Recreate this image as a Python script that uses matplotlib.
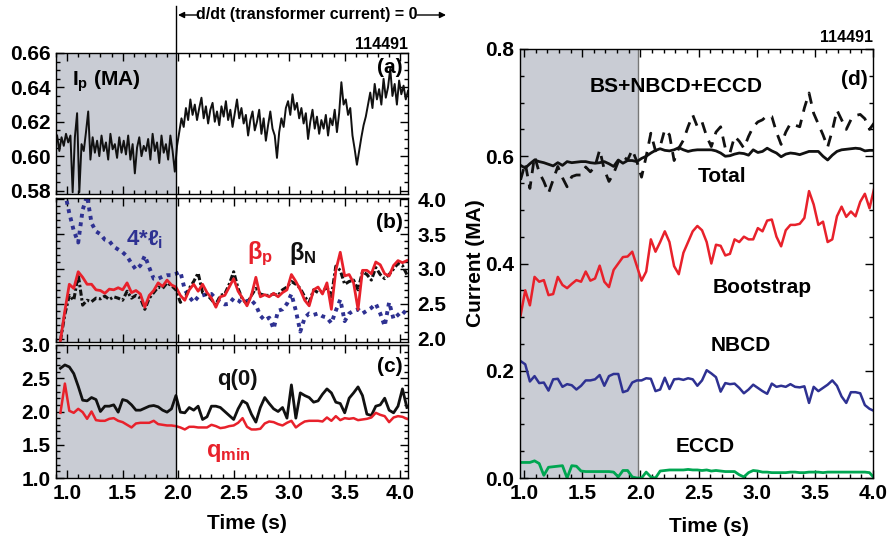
import numpy as np
import matplotlib
matplotlib.use('Agg')
import matplotlib.pyplot as plt
from matplotlib.ticker import MultipleLocator, FormatStrFormatter
from matplotlib.lines import Line2D
from matplotlib import font_manager as fm

names = {f.name for f in fm.fontManager.ttflist}
BASE = 'Liberation Sans Narrow' if 'Liberation Sans Narrow' in names else 'Liberation Sans'
plt.rcParams['font.family'] = [BASE, 'DejaVu Sans']
plt.rcParams['font.weight'] = 'bold'
plt.rcParams['mathtext.fontset'] = 'custom'
plt.rcParams['mathtext.rm'] = BASE + ':bold'
plt.rcParams['mathtext.it'] = BASE + ':bold'
plt.rcParams['mathtext.bf'] = BASE + ':bold'
plt.rcParams['mathtext.fallback'] = 'cm'

# ---------------- data ----------------
t_ip = 0.91 + 0.02 * np.arange(159)
ip = [0.612, 0.603, 0.611, 0.606, 0.613, 0.608, 0.612, 0.579, 0.611, 0.625,
      0.579, 0.607, 0.603, 0.614, 0.626, 0.598, 0.611, 0.602, 0.609, 0.600,
      0.612, 0.603, 0.608, 0.598, 0.613, 0.604, 0.607, 0.599, 0.611, 0.602,
      0.609, 0.601, 0.612, 0.598, 0.607, 0.590, 0.605, 0.611, 0.600, 0.606,
      0.603, 0.610, 0.598, 0.613, 0.603, 0.608, 0.596, 0.612, 0.602, 0.607,
      0.598, 0.612, 0.603, 0.591, 0.606, 0.614, 0.622, 0.617, 0.628, 0.621,
      0.633, 0.624, 0.630, 0.621, 0.628, 0.634, 0.622, 0.629, 0.619, 0.627,
      0.631, 0.620, 0.626, 0.618, 0.629, 0.623, 0.632, 0.621, 0.627, 0.617,
      0.625, 0.633, 0.622, 0.628, 0.619, 0.624, 0.612, 0.621, 0.626, 0.615,
      0.620, 0.627, 0.613, 0.622, 0.609, 0.618, 0.626, 0.616, 0.612, 0.599,
      0.614, 0.622, 0.617, 0.628, 0.632, 0.624, 0.636, 0.627, 0.631, 0.622,
      0.628, 0.619, 0.625, 0.610, 0.620, 0.627, 0.616, 0.623, 0.613, 0.621,
      0.616, 0.624, 0.612, 0.622, 0.618, 0.627, 0.614, 0.625, 0.643, 0.630,
      0.633, 0.624, 0.628, 0.612, 0.604, 0.595, 0.603, 0.611, 0.618, 0.623,
      0.630, 0.637, 0.628, 0.642, 0.633, 0.639, 0.630, 0.645, 0.634, 0.640,
      0.651, 0.635, 0.642, 0.630, 0.644, 0.636, 0.641, 0.633, 0.638]

tb = 0.94 + 0.04 * np.arange(79)
beta_p = [1.97, 2.40, 2.78, 2.72, 2.96, 2.88, 2.78, 2.78, 2.70, 2.69,
          2.65, 2.71, 2.70, 2.73, 2.70, 2.80, 2.66, 2.69, 2.64, 2.45,
          2.62, 2.69, 2.80, 2.75, 2.84, 2.77, 2.74, 2.62, 2.55, 2.70,
          2.78, 2.68, 2.78, 2.66, 2.58, 2.45, 2.60, 2.62, 2.74, 2.86,
          2.68, 2.58, 2.47, 2.62, 2.88, 2.60, 2.63, 2.60, 2.65, 2.60,
          2.66, 2.70, 2.92, 2.82, 2.70, 2.55, 2.47, 2.70, 2.74, 2.64,
          2.80, 2.42, 2.98, 3.24, 2.90, 2.92, 2.80, 2.42, 2.98, 2.98,
          2.93, 3.10, 3.06, 2.93, 2.90, 3.05, 3.12, 3.09, 3.12]
beta_n = [1.97, 2.35, 2.62, 2.55, 2.92, 2.48, 2.55, 2.53, 2.58, 2.57,
          2.61, 2.56, 2.60, 2.58, 2.55, 2.68, 2.58, 2.62, 2.58, 2.42,
          2.58, 2.66, 2.74, 2.72, 2.80, 2.76, 2.70, 2.52, 2.58, 2.72,
          2.82, 2.94, 2.66, 2.63, 2.56, 2.48, 2.62, 2.64, 2.78, 2.96,
          2.72, 2.56, 2.50, 2.62, 2.72, 2.64, 2.62, 2.62, 2.64, 2.62,
          2.70, 2.74, 2.82, 2.78, 2.72, 2.60, 2.52, 2.70, 2.66, 2.68,
          2.74, 2.60, 3.04, 2.98, 2.78, 2.82, 2.84, 2.70, 2.96, 2.92,
          2.84, 3.02, 2.92, 2.86, 2.92, 3.00, 3.08, 3.05, 2.92]
li4 = [np.nan, 4.10, 3.80, 3.55, 3.38, 3.85, 4.05, 3.66, 3.54, 3.50,
       3.42, 3.40, 3.32, 3.28, 3.24, 3.18, 3.08, 2.99, 3.05, 3.19,
       3.02, 2.86, 2.86, 2.89, 2.91, 2.91, 2.93, 2.96, 2.70, 2.60,
       2.52, 2.60, 2.62, 2.64, 2.64, 2.57, 2.52, 2.49, 2.50, 2.58,
       2.55, 2.50, 2.54, 2.55, 2.48, 2.33, 2.26, 2.30, 2.14, 2.40,
       2.42, 2.50, 2.64, 2.40, 2.10, 2.30, 2.36, 2.34, 2.36, 2.32,
       2.30, 2.22, 2.40, 2.56, 2.25, 2.36, 2.40, 2.42, 2.36, 2.40,
       2.44, 2.50, 2.36, 2.18, 2.52, 2.28, 2.34, 2.40, 2.34]

q0 = [2.65, 2.70, 2.67, 2.57, 2.38, 2.17, 2.16, 2.21, 2.18, 2.00,
      2.08, 2.08, 2.10, 1.99, 2.18, 2.16, 2.10, 2.02, 2.02, 2.05,
      2.08, 2.09, 2.07, 2.02, 1.99, 2.04, 2.24, 1.99, 1.98, 2.06,
      2.02, 2.08, 1.88, 1.92, 2.08, 2.08, 2.06, 2.00, 1.94, 1.88,
      2.04, 2.16, 2.12, 1.96, 1.84, 2.06, 2.21, 2.12, 2.04, 2.00,
      2.06, 1.90, 2.40, 1.90, 2.28, 2.24, 2.21, 2.14, 2.16, 2.26,
      2.34, 2.28, 2.14, 2.12, 1.98, 2.20, 2.28, 2.37, 2.24, 1.96,
      1.94, 2.08, 2.10, 2.20, 2.02, 1.98, 2.08, 2.34, 2.06]
qmin = [1.98, 2.42, 2.01, 1.98, 2.04, 1.99, 1.89, 2.00, 1.87, 1.86,
        1.86, 1.89, 1.90, 1.86, 1.84, 1.80, 1.76, 1.82, 1.83, 1.83,
        1.83, 1.86, 1.81, 1.80, 1.79, 1.79, 1.78, 1.76, 1.73, 1.77,
        1.77, 1.76, 1.76, 1.76, 1.80, 1.78, 1.75, 1.76, 1.78, 1.79,
        1.83, 1.90, 1.77, 1.73, 1.73, 1.74, 1.82, 1.85, 1.84, 1.81,
        1.79, 1.83, 1.86, 1.76, 1.81, 1.85, 1.86, 1.86, 1.86, 1.85,
        1.91, 1.86, 1.93, 1.87, 1.90, 1.89, 1.90, 1.87, 1.88, 1.89,
        1.91, 1.98, 1.95, 1.93, 1.84, 1.91, 1.93, 1.92, 1.89]

td = 0.97 + 0.04 * np.arange(77)
total = [0.583, 0.578, 0.586, 0.593, 0.590, 0.588, 0.585, 0.582, 0.588, 0.583,
         0.590, 0.588, 0.589, 0.590, 0.590, 0.588, 0.587, 0.588, 0.590, 0.586,
         0.581, 0.593, 0.587, 0.592, 0.592, 0.590, 0.596, 0.600, 0.606, 0.611,
         0.614, 0.611, 0.610, 0.612, 0.616, 0.612, 0.609, 0.611, 0.612, 0.612,
         0.612, 0.612, 0.610, 0.606, 0.600, 0.601, 0.604, 0.606, 0.605, 0.602,
         0.612, 0.607, 0.609, 0.615, 0.610, 0.606, 0.599, 0.604, 0.606, 0.605,
         0.603, 0.606, 0.609, 0.609, 0.609, 0.600, 0.593, 0.602, 0.609, 0.612,
         0.613, 0.614, 0.615, 0.614, 0.610, 0.611, 0.611]
bs_nb_ec = [0.556, 0.587, 0.540, 0.600, 0.570, 0.553, 0.531, 0.556, 0.581, 0.560,
            0.543, 0.562, 0.565, 0.565, 0.580, 0.571, 0.581, 0.612, 0.575, 0.553,
            0.568, 0.590, 0.600, 0.593, 0.612, 0.590, 0.561, 0.600, 0.643, 0.610,
            0.618, 0.650, 0.640, 0.592, 0.615, 0.630, 0.655, 0.677, 0.655, 0.664,
            0.637, 0.618, 0.645, 0.655, 0.615, 0.606, 0.637, 0.628, 0.615, 0.637,
            0.655, 0.664, 0.668, 0.676, 0.674, 0.645, 0.622, 0.645, 0.661, 0.658,
            0.655, 0.690, 0.718, 0.680, 0.660, 0.640, 0.617, 0.648, 0.686, 0.668,
            0.650, 0.668, 0.676, 0.678, 0.670, 0.650, 0.662]
bootstrap = [0.303, 0.350, 0.322, 0.375, 0.366, 0.369, 0.341, 0.343, 0.375, 0.360,
             0.354, 0.362, 0.369, 0.366, 0.385, 0.368, 0.372, 0.396, 0.366, 0.356,
             0.388, 0.400, 0.412, 0.413, 0.422, 0.395, 0.368, 0.385, 0.445, 0.422,
             0.440, 0.460, 0.440, 0.395, 0.380, 0.420, 0.440, 0.460, 0.470, 0.462,
             0.440, 0.400, 0.435, 0.433, 0.415, 0.418, 0.445, 0.440, 0.450, 0.445,
             0.445, 0.466, 0.460, 0.480, 0.482, 0.450, 0.432, 0.462, 0.472, 0.472,
             0.474, 0.485, 0.535, 0.510, 0.472, 0.478, 0.440, 0.445, 0.488, 0.506,
             0.487, 0.497, 0.488, 0.515, 0.530, 0.503, 0.540]
nbcd = [0.218, 0.212, 0.180, 0.190, 0.177, 0.178, 0.163, 0.184, 0.185, 0.170,
        0.175, 0.173, 0.165, 0.172, 0.182, 0.182, 0.184, 0.192, 0.172, 0.190,
        0.194, 0.194, 0.160, 0.163, 0.178, 0.182, 0.182, 0.186, 0.185, 0.162,
        0.165, 0.187, 0.166, 0.184, 0.185, 0.183, 0.186, 0.184, 0.172, 0.182,
        0.201, 0.195, 0.188, 0.161, 0.177, 0.175, 0.176, 0.168, 0.158, 0.165,
        0.174, 0.168, 0.162, 0.157, 0.176, 0.170, 0.172, 0.170, 0.175, 0.170,
        0.169, 0.171, 0.140, 0.170, 0.162, 0.168, 0.174, 0.182, 0.172, 0.152,
        0.140, 0.160, 0.160, 0.158, 0.136, 0.129, 0.125]
eccd = [0.029, 0.029, 0.029, 0.032, 0.027, 0.005, 0.020, 0.021, 0.022, 0.023,
        0.000, 0.023, 0.022, 0.013, 0.012, 0.012, 0.012, 0.012, 0.012, 0.012,
        0.011, 0.002, 0.014, 0.014, 0.002, 0.000, 0.000, 0.011, 0.002, 0.000,
        0.013, 0.014, 0.015, 0.015, 0.015, 0.015, 0.016, 0.015, 0.015, 0.014,
        0.015, 0.013, 0.014, 0.013, 0.012, 0.012, 0.012, 0.006, 0.002, 0.010,
        0.014, 0.013, 0.011, 0.011, 0.010, 0.010, 0.010, 0.010, 0.011, 0.011,
        0.010, 0.010, 0.011, 0.011, 0.011, 0.010, 0.011, 0.011, 0.011, 0.011,
        0.011, 0.011, 0.011, 0.011, 0.011, 0.010, 0.000]

T_SWITCH = 1.98
SHADE = '#c9ccd4'
RED = '#e8212b'
BLUE = '#2e3192'
GREEN = '#00a651'

# ---------------- figure ----------------
W, H = 893, 538
fig = plt.figure(figsize=(W / 100, H / 100), dpi=100)

def rect(x0, y0, x1, y1):
    return [x0 / W, 1 - y1 / H, (x1 - x0) / W, (y1 - y0) / H]

ax_a = fig.add_axes(rect(56, 53, 408, 194))
ax_b = fig.add_axes(rect(56, 198, 408, 342))
ax_c = fig.add_axes(rect(56, 345, 408, 478))
ax_d = fig.add_axes(rect(520, 49, 873, 478))

TICK_FS = 15

def style(ax, xmin, xmax):
    ax.set_xlim(xmin, xmax)
    ax.xaxis.set_major_locator(MultipleLocator(0.5))
    ax.xaxis.set_minor_locator(MultipleLocator(0.1))
    ax.tick_params(which='both', direction='in', top=True, right=True,
                   labelsize=TICK_FS, width=1.0)
    ax.tick_params(which='major', length=6, pad=4)
    ax.tick_params(which='minor', length=3)
    for s in ax.spines.values():
        s.set_linewidth(1.0)
    ax.axvspan(xmin, T_SWITCH, color=SHADE, zorder=0, lw=0)

for ax in (ax_a, ax_b, ax_c):
    style(ax, 0.9, 4.07)
style(ax_d, 0.965, 4.0)

# (a)
ax_a.plot(t_ip, ip, color='#111111', lw=1.4)
ax_a.set_ylim(0.578, 0.660)
ax_a.yaxis.set_major_locator(MultipleLocator(0.02))
ax_a.yaxis.set_minor_locator(MultipleLocator(0.005))
ax_a.yaxis.set_major_formatter(FormatStrFormatter('%.2f'))
ax_a.tick_params(labelbottom=False)
ax_a.text(0.045, 0.80, r'$I_p$ (MA)', transform=ax_a.transAxes, fontsize=15,
          ha='left', va='center', fontweight='bold')
ax_a.text(0.985, 0.90, '(a)', transform=ax_a.transAxes, fontsize=15,
          ha='right', va='center', fontweight='bold')
ax_a.text(1.0, 1.01, '114491', transform=ax_a.transAxes, fontsize=11.5,
          ha='right', va='bottom', fontweight='bold')

# (b)
ax_b.plot(tb, li4, color=BLUE, lw=2.8, ls=(0, (1, 1.2)))
ax_b.plot(tb, beta_n, color='#111111', lw=2.2, ls=(0, (2, 0.8, 0.8, 0.8)))
ax_b.plot(tb, beta_p, color=RED, lw=2.0)
ax_b.set_ylim(1.95, 4.02)
ax_b.yaxis.set_major_locator(MultipleLocator(0.5))
ax_b.yaxis.set_minor_locator(MultipleLocator(0.1))
ax_b.yaxis.set_major_formatter(FormatStrFormatter('%.1f'))
ax_b.tick_params(labelbottom=False, labelleft=False, labelright=True)
ax_b.tick_params(axis='y', which='major', pad=7)
ax_b.text(0.985, 0.83, '(b)', transform=ax_b.transAxes, fontsize=15,
          ha='right', va='center', fontweight='bold')
ax_b.text(1.70, 3.42, r'4*$\ell_i$', color=BLUE, fontsize=16, ha='center', va='center')
ax_b.text(2.74, 3.22, r'$\beta_p$', color=RED, fontsize=17, ha='center', va='center')
ax_b.text(3.12, 3.22, r'$\beta_N$', color='#111111', fontsize=17, ha='center', va='center')

# (c)
ax_c.plot(tb, q0, color='#111111', lw=2.0)
ax_c.plot(tb, qmin, color=RED, lw=1.8)
ax_c.set_ylim(1.0, 3.0)
ax_c.yaxis.set_major_locator(MultipleLocator(0.5))
ax_c.yaxis.set_minor_locator(MultipleLocator(0.1))
ax_c.yaxis.set_major_formatter(FormatStrFormatter('%.1f'))
ax_c.xaxis.set_major_formatter(FormatStrFormatter('%.1f'))
ax_c.text(0.985, 0.84, '(c)', transform=ax_c.transAxes, fontsize=15,
          ha='right', va='center', fontweight='bold')
ax_c.text(2.53, 2.48, 'q(0)', color='#111111', fontsize=16, ha='center', va='center')
ax_c.text(2.45, 1.38, r'$q_{min}$', color=RED, fontsize=17, ha='center', va='center')
ax_c.set_xlabel('Time (s)', fontsize=15, fontweight='bold', va='center')
ax_c.xaxis.set_label_coords(0.543, -0.34)

# (d)
ax_d.axvline(T_SWITCH, color='#777777', lw=1.0, zorder=1)
ax_d.plot(td, bs_nb_ec, color='#111111', lw=2.0, ls=(0, (4, 3)))
ax_d.plot(td, total, color='#111111', lw=2.0)
ax_d.plot(td, bootstrap, color=RED, lw=1.8)
ax_d.plot(td, nbcd, color=BLUE, lw=1.8)
ax_d.plot(td, eccd, color=GREEN, lw=2.0)
ax_d.set_ylim(0.0, 0.8)
ax_d.yaxis.set_major_locator(MultipleLocator(0.2))
ax_d.yaxis.set_minor_locator(MultipleLocator(0.05))
ax_d.yaxis.set_major_formatter(FormatStrFormatter('%.1f'))
ax_d.xaxis.set_major_formatter(FormatStrFormatter('%.1f'))
ax_d.text(0.985, 0.93, '(d)', transform=ax_d.transAxes, fontsize=15,
          ha='right', va='center', fontweight='bold')
ax_d.text(1.0, 1.01, '114491', transform=ax_d.transAxes, fontsize=11.5,
          ha='right', va='bottom', fontweight='bold')
ax_d.text(2.31, 0.731, 'BS+NBCD+ECCD', fontsize=15, ha='center', va='center')
ax_d.text(2.70, 0.562, 'Total', fontsize=15, ha='center', va='center')
ax_d.text(3.05, 0.355, 'Bootstrap', fontsize=15, ha='center', va='center')
ax_d.text(2.86, 0.248, 'NBCD', fontsize=15, ha='center', va='center')
ax_d.text(2.56, 0.058, 'ECCD', fontsize=15, ha='center', va='center')
ax_d.set_ylabel('Current (MA)', fontsize=15, fontweight='bold', va='center')
ax_d.yaxis.set_label_coords(-0.127, 0.5)
ax_d.set_xlabel('Time (s)', fontsize=15, fontweight='bold', va='center')
ax_d.xaxis.set_label_coords(0.535, -0.114)

# vertical switch line across the left panels
xd = ax_a.transData.transform((T_SWITCH, 0.6))[0]
xf = xd / fig.bbox.width
yb = ax_c.get_position().y0
fig.add_artist(Line2D([xf, xf], [yb, 1 - 6 / H], transform=fig.transFigure,
                      color='black', lw=1.0))

# header arrow annotation
yh_px = H - 15
fig.text(307 / W, yh_px / H, 'd/dt (transformer current) = 0', fontsize=11.5,
         ha='center', va='center', fontweight='bold')
for x_from, x_to in ((197, 178), (417, 446)):
    fig.add_artist(matplotlib.patches.FancyArrowPatch(
        (x_from / W, yh_px / H), (x_to / W, yh_px / H), transform=fig.transFigure,
        arrowstyle='-|>', mutation_scale=9, lw=1.0, color='black',
        shrinkA=0, shrinkB=0))

fig.savefig('out.png', dpi=100)
